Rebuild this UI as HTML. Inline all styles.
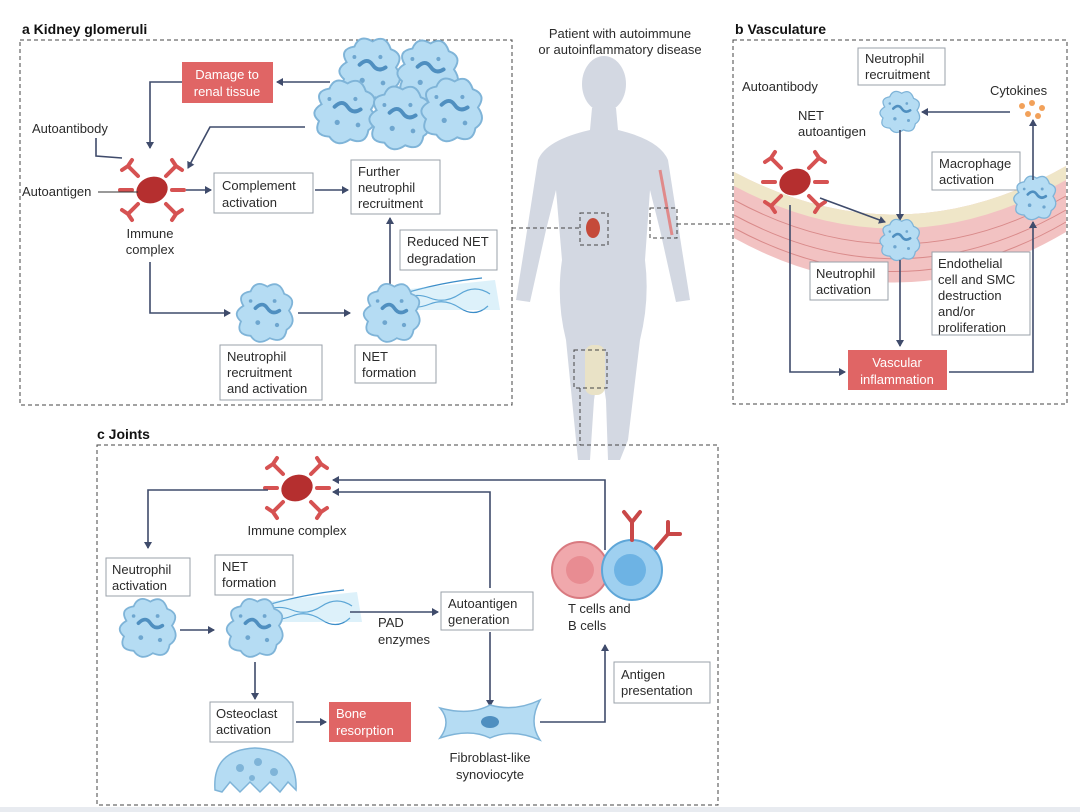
<!DOCTYPE html>
<html><head><meta charset="utf-8"><style>
html,body{margin:0;padding:0;background:#fff;}
svg{display:block;font-family:"Liberation Sans",sans-serif;}
.t{font-size:13px;fill:#2b2b2b;}
.b{fill:#fff;stroke:#9aa0aa;stroke-width:1;}
.r{fill:#e06565;}
.rt{font-size:13px;fill:#fff;}
.ar{stroke:#3f4b6b;stroke-width:1.6;fill:none;marker-end:url(#ah);}
.ln{stroke:#3f4b6b;stroke-width:1.6;fill:none;}
.dash{fill:none;stroke:#444;stroke-width:1;stroke-dasharray:4 3;}
.h{font-size:14px;font-weight:bold;fill:#111;}
</style></head><body>
<svg width="1080" height="812" viewBox="0 0 1080 812">
<defs>
<marker id="ah" markerWidth="8" markerHeight="8" refX="6" refY="4" orient="auto" markerUnits="userSpaceOnUse"><path d="M0,0 L7,4 L0,8 Z" fill="#3f4b6b"/></marker>
<g id="neu">
<path d="M-18,-6 Q-24,-16 -12,-18 Q-8,-28 2,-22 Q12,-28 16,-16 Q27,-12 20,-2 Q27,8 18,14 Q16,26 4,21 Q-6,28 -12,19 Q-25,18 -20,7 Q-28,0 -18,-6Z" fill="#b5dcf3" stroke="#7fb4d8" stroke-width="1.5"/>
<path d="M-8,-4 q6,-6 10,0 q4,6 10,2" fill="none" stroke="#4f8fc0" stroke-width="3" stroke-linecap="round"/>
<circle cx="-6" cy="8" r="2" fill="#6ea6cf"/><circle cx="8" cy="-10" r="1.6" fill="#6ea6cf"/><circle cx="10" cy="10" r="1.8" fill="#6ea6cf"/><circle cx="-12" cy="-10" r="1.5" fill="#6ea6cf"/>
</g>
<g id="ic">
<ellipse cx="0" cy="0" rx="16" ry="13" fill="#b52f2f" transform="rotate(-20)"/>
<g stroke="#d65252" stroke-width="4" fill="none" stroke-linecap="round">
<path d="M-14,-14 l-10,-10 M-24,-24 l-6,4 M-24,-24 l4,-6"/>
<path d="M14,-14 l10,-10 M24,-24 l6,4 M24,-24 l-4,-6"/>
<path d="M-14,14 l-10,10 M-24,24 l-6,-4 M-24,24 l4,6"/>
<path d="M14,14 l10,10 M24,24 l6,-4 M24,24 l-4,6"/>
<path d="M-20,0 l-12,0 M20,0 l12,0"/>
</g></g>
<g id="net"><path d="M0,0 q15,-8 30,-2 t30,-4 t30,0 M0,6 q15,4 30,-2 t30,4 t28,-2 M2,-6 q20,-6 40,-10 t40,-6" stroke="#3a8cc8" stroke-width="1.2" fill="none"/><path d="M0,-10 L95,-20 L100,10 L0,10Z" fill="#9fd6f0" opacity=".35"/></g>
</defs>

<!-- silhouette -->
<g fill="#d3d8e2">
<ellipse cx="604" cy="84" rx="22" ry="28"/>
<path d="M592,108 L616,108 L618,130 Q660,140 668,160 L682,250 L690,300 L676,302 L660,230 L650,190 L645,260 Q650,300 640,340 L628,440 L620,460 L608,460 L606,400 L600,360 L594,400 L590,460 L578,460 L576,440 L566,340 Q556,300 562,260 L556,190 L546,230 L530,302 L516,300 L524,250 L538,160 Q546,140 590,130Z"/>
</g>
<path d="M660,170 L672,235" stroke="#e08a8a" stroke-width="3"/>
<ellipse cx="593" cy="228" rx="7" ry="10" fill="#c54a3a"/>
<rect x="585" y="345" width="20" height="50" rx="8" fill="#e9e2c6"/>

<text x="620" y="38" class="t" text-anchor="middle">Patient with autoimmune</text>
<text x="620" y="54" class="t" text-anchor="middle">or autoinflammatory disease</text>

<rect x="580" y="213" width="28" height="32" class="dash"/>
<rect x="650" y="208" width="27" height="30" class="dash"/>
<rect x="574" y="350" width="33" height="38" class="dash"/>
<path d="M512,228 L580,228 M677,224 L733,224 M580,388 L580,445" class="dash"/>

<!-- Panel a -->
<rect x="20" y="40" width="492" height="365" class="dash"/>
<text x="22" y="34" class="h">a  Kidney glomeruli</text>
<rect x="182" y="62" width="91" height="41" class="r"/>
<text x="227" y="79" class="rt" text-anchor="middle">Damage to</text>
<text x="227" y="96" class="rt" text-anchor="middle">renal tissue</text>
<use href="#neu" transform="translate(370,70) scale(1.3)"/>
<use href="#neu" transform="translate(428,72) scale(1.3)"/>
<use href="#neu" transform="translate(345,112) scale(1.3)"/>
<use href="#neu" transform="translate(400,118) scale(1.3)"/>
<use href="#neu" transform="translate(452,110) scale(1.3)"/>
<path d="M330,82 L277,82" class="ar"/>
<path d="M182,82 L150,82 L150,148" class="ar"/>
<path d="M305,127 L210,127 L188,168" class="ar"/>
<text x="32" y="133" class="t">Autoantibody</text>
<path d="M96,138 L96,156 L122,158" class="ln" stroke="#333" stroke-width="1"/>
<use href="#ic" transform="translate(152,190)"/>
<text x="22" y="196" class="t">Autoantigen</text>
<line x1="98" y1="192" x2="138" y2="192" stroke="#333"/>
<text x="150" y="238" class="t" text-anchor="middle">Immune</text>
<text x="150" y="254" class="t" text-anchor="middle">complex</text>
<rect x="214" y="173" width="99" height="40" class="b"/>
<text x="222" y="190" class="t">Complement</text><text x="222" y="207" class="t">activation</text>
<path d="M186,190 L211,190" class="ar"/>
<path d="M315,190 L348,190" class="ar"/>
<rect x="351" y="160" width="89" height="54" class="b"/>
<text x="358" y="176" class="t">Further</text><text x="358" y="192" class="t">neutrophil</text><text x="358" y="208" class="t">recruitment</text>
<rect x="400" y="230" width="97" height="40" class="b"/>
<text x="407" y="246" class="t">Reduced NET</text><text x="407" y="263" class="t">degradation</text>
<path d="M390,288 L390,218" class="ar"/>
<path d="M150,262 L150,313 L230,313" class="ar"/>
<use href="#neu" transform="translate(265,313) scale(1.2)"/>
<path d="M298,313 L350,313" class="ar"/>
<use href="#net" transform="translate(400,300)"/>
<use href="#neu" transform="translate(392,313) scale(1.2)"/>
<rect x="220" y="345" width="102" height="55" class="b"/>
<text x="227" y="361" class="t">Neutrophil</text><text x="227" y="377" class="t">recruitment</text><text x="227" y="393" class="t">and activation</text>
<rect x="355" y="345" width="81" height="38" class="b"/>
<text x="362" y="361" class="t">NET</text><text x="362" y="377" class="t">formation</text>

<!-- Panel b -->
<rect x="733" y="40" width="334" height="364" class="dash"/>
<text x="735" y="34" class="h">b  Vasculature</text>
<path d="M734,172 Q900,260 1066,166 L1066,232 Q900,330 734,238Z" fill="#f2c2c2"/>
<path d="M734,172 Q900,260 1066,166 L1066,180 Q900,274 734,186Z" fill="#efe6c8"/>
<g stroke="#d98a8a" stroke-width="1" fill="none">
<path d="M734,200 Q900,290 1066,196"/><path d="M734,215 Q900,305 1066,210"/><path d="M734,228 Q900,318 1066,222"/>
</g>
<rect x="858" y="48" width="87" height="37" class="b"/>
<text x="865" y="63" class="t">Neutrophil</text><text x="865" y="79" class="t">recruitment</text>
<text x="990" y="95" class="t">Cytokines</text>
<g fill="#f2a15a"><circle cx="1022" cy="106" r="3"/><circle cx="1032" cy="103" r="3"/><circle cx="1042" cy="108" r="3"/><circle cx="1028" cy="114" r="3"/><circle cx="1038" cy="116" r="3"/></g>
<path d="M1010,112 L922,112" class="ar"/>
<use href="#neu" transform="translate(900,112) scale(0.85)"/>
<path d="M900,130 L900,220" class="ar"/>
<text x="742" y="91" class="t">Autoantibody</text>
<text x="798" y="120" class="t">NET</text><text x="798" y="136" class="t">autoantigen</text>
<use href="#ic" transform="translate(795,182)"/>
<path d="M820,198 L885,222" class="ar"/>
<use href="#neu" transform="translate(900,240) scale(0.85)"/>
<rect x="932" y="152" width="88" height="38" class="b"/>
<text x="939" y="168" class="t">Macrophage</text><text x="939" y="184" class="t">activation</text>
<use href="#neu" transform="translate(1035,198) scale(0.9)"/>
<path d="M1033,180 L1033,120" class="ar"/>
<rect x="810" y="262" width="78" height="38" class="b"/>
<text x="816" y="278" class="t">Neutrophil</text><text x="816" y="294" class="t">activation</text>
<rect x="932" y="252" width="98" height="83" class="b"/>
<text x="938" y="268" class="t">Endothelial</text><text x="938" y="284" class="t">cell and SMC</text><text x="938" y="300" class="t">destruction</text><text x="938" y="316" class="t">and/or</text><text x="938" y="332" class="t">proliferation</text>
<path d="M900,260 L900,346" class="ar"/>
<rect x="848" y="350" width="99" height="40" class="r"/>
<text x="897" y="367" class="rt" text-anchor="middle">Vascular</text><text x="897" y="384" class="rt" text-anchor="middle">inflammation</text>
<path d="M790,205 L790,372 L845,372" class="ar"/>
<path d="M949,372 L1033,372 L1033,222" class="ar"/>

<!-- Panel c -->
<rect x="97" y="445" width="621" height="360" class="dash"/>
<text x="97" y="439" class="h">c  Joints</text>
<use href="#ic" transform="translate(297,488)"/>
<text x="297" y="535" class="t" text-anchor="middle">Immune complex</text>
<path d="M605,550 L605,480 L333,480" class="ar"/>
<path d="M490,588 L490,492 L333,492" class="ar"/>
<path d="M268,490 L148,490 L148,548" class="ar"/>
<rect x="106" y="558" width="84" height="38" class="b"/>
<text x="112" y="574" class="t">Neutrophil</text><text x="112" y="590" class="t">activation</text>
<rect x="215" y="555" width="78" height="40" class="b"/>
<text x="222" y="571" class="t">NET</text><text x="222" y="587" class="t">formation</text>
<use href="#neu" transform="translate(148,628) scale(1.2)"/>
<path d="M180,630 L214,630" class="ar"/>
<use href="#net" transform="translate(262,612)"/>
<use href="#neu" transform="translate(255,628) scale(1.2)"/>
<path d="M350,612 L438,612" class="ar"/>
<text x="378" y="627" class="t">PAD</text><text x="378" y="644" class="t">enzymes</text>
<rect x="441" y="592" width="92" height="38" class="b"/>
<text x="448" y="608" class="t">Autoantigen</text><text x="448" y="624" class="t">generation</text>
<path d="M490,632 L490,706" class="ar"/>
<circle cx="580" cy="570" r="28" fill="#f0a8ac" stroke="#d97a80" stroke-width="2"/>
<circle cx="580" cy="570" r="14" fill="#e88c92"/>
<circle cx="632" cy="570" r="30" fill="#9fd0f0" stroke="#5ea6d8" stroke-width="2"/>
<circle cx="630" cy="570" r="16" fill="#6db3e4"/>
<g stroke="#c94848" stroke-width="4" fill="none" stroke-linecap="round"><path d="M632,540 L632,522 M632,522 l-8,-10 M632,522 l8,-10"/><path d="M656,548 L668,534 M668,534 l0,-12 M668,534 l12,0"/></g>
<text x="568" y="613" class="t">T cells and</text><text x="568" y="630" class="t">B cells</text>
<rect x="614" y="662" width="96" height="41" class="b"/>
<text x="621" y="679" class="t">Antigen</text><text x="621" y="695" class="t">presentation</text>
<path d="M440,708 Q470,716 490,705 Q515,712 540,700 Q528,722 540,740 Q512,728 490,738 Q470,728 440,738 Q452,722 440,708Z" fill="#b5dcf3" stroke="#7fb4d8" stroke-width="1.5"/>
<ellipse cx="490" cy="722" rx="9" ry="6" fill="#4f8fc0"/>
<path d="M540,722 L605,722 L605,645" class="ar"/>
<text x="490" y="762" class="t" text-anchor="middle">Fibroblast-like</text><text x="490" y="779" class="t" text-anchor="middle">synoviocyte</text>
<path d="M255,662 L255,699" class="ar"/>
<rect x="210" y="702" width="83" height="40" class="b"/>
<text x="216" y="718" class="t">Osteoclast</text><text x="216" y="734" class="t">activation</text>
<path d="M296,722 L326,722" class="ar"/>
<rect x="329" y="702" width="82" height="40" class="r"/>
<text x="336" y="718" class="rt">Bone</text><text x="336" y="735" class="rt">resorption</text>
<path d="M215,790 Q212,750 255,748 Q298,750 296,790 L288,782 L280,792 L270,782 L260,792 L250,782 L240,792 L230,782 L222,792Z" fill="#b5dcf3" stroke="#7fb4d8" stroke-width="1.5"/>
<g fill="#7fb4d8"><circle cx="240" cy="768" r="4"/><circle cx="258" cy="762" r="4"/><circle cx="274" cy="772" r="4"/><circle cx="252" cy="778" r="3"/></g>
<rect x="0" y="807" width="1080" height="5" fill="#e8ebf0"/>
</svg>
</body></html>
